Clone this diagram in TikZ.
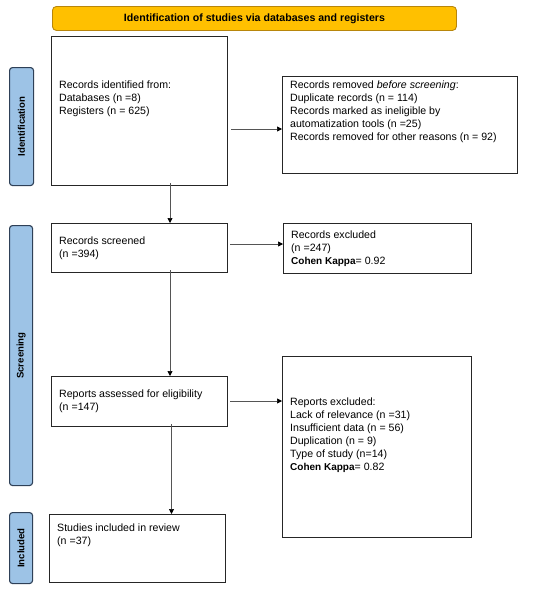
\documentclass[tikz,border=0pt]{standalone}
\usepackage{fontspec}
\setmainfont{Liberation Sans}
\usetikzlibrary{arrows.meta}
\definecolor{gold}{HTML}{FFC000}
\definecolor{goldline}{HTML}{B8860B}
\definecolor{lblue}{HTML}{9DC3E6}
\definecolor{bline}{HTML}{2E4057}
\definecolor{arrowgrey}{HTML}{555555}
\tikzset{
  box/.style={draw=black!85, line width=1.1pt, rectangle, inner sep=0pt},
  txt/.style={anchor=north west, align=left, inner sep=0pt, font=\fontsize{10.6}{12.9}\selectfont},
  phase/.style={draw=bline, fill=lblue, line width=1.1pt, rounded corners=3pt, inner sep=0pt},
  phasetxt/.style={rotate=90, font=\bfseries\fontsize{9.6}{11}\selectfont, inner sep=0pt},
  flow/.style={draw=arrowgrey, line width=0.7pt, -{Triangle[length=5pt,width=5pt,fill=black,color=black]}}
}
\newcommand{\kap}{\textbf{\fontsize{10}{12}\selectfont Cohen Kappa}}
\begin{document}
\begin{tikzpicture}[x=1pt,y=-1pt]
\useasboundingbox (0,0) rectangle (550,590);
% title
\node[draw=goldline, fill=gold, line width=0.9pt, rounded corners=4pt, minimum width=404pt, minimum height=24pt, anchor=north west, font=\bfseries\fontsize{10.6}{12}\selectfont] (title) at (52,6) {Identification of studies via databases and registers};
% phase labels
\node[phase, minimum width=24pt, minimum height=118pt, anchor=north west] (pid) at (9,67) {};
\node[phasetxt] (pidt) at (pid.center) {Identification};
\node[phase, minimum width=23pt, minimum height=260pt, anchor=north west] (psc) at (9,225) {};
\node[phasetxt] (psct) at (psc.center) {Screening};
\node[phase, minimum width=23pt, minimum height=71pt, anchor=north west] (pin) at (9,512) {};
\node[phasetxt] (pint) at (pin.center) {Included};
% boxes
\node[box, minimum width=176pt, minimum height=149pt, anchor=north west] (b1) at (51,36) {};
\node[box, minimum width=235pt, minimum height=97pt, anchor=north west] (b2) at (282,76) {};
\node[box, minimum width=176pt, minimum height=49pt, anchor=north west] (b3) at (51,223) {};
\node[box, minimum width=188pt, minimum height=50pt, anchor=north west] (b4) at (283,223) {};
\node[box, minimum width=176pt, minimum height=50pt, anchor=north west] (b5) at (51,376) {};
\node[box, minimum width=189pt, minimum height=181pt, anchor=north west] (b6) at (282,356) {};
\node[box, minimum width=176pt, minimum height=68pt, anchor=north west] (b7) at (49,514) {};
% texts
\node[txt] (t1) at (59,81) {Records identified from:\\Databases (n =8)\\Registers (n = 625)};
\node[txt] (t2) at (290,81) {Records removed \textit{before screening}:\\Duplicate records (n = 114)\\Records marked as ineligible by\\automatization tools (n =25)\\Records removed for other reasons (n = 92)};
\node[txt] (t3) at (59,237) {Records screened\\(n =394)};
\node[txt] (t4) at (291,231) {Records excluded\\(n =247)\\\kap= 0.92};
\node[txt] (t5) at (59,390) {Reports assessed for eligibility\\(n =147)};
\node[txt] (t6) at (290,398) {Reports excluded:\\Lack of relevance (n =31)\\Insufficient data (n = 56)\\Duplication (n = 9)\\Type of study (n=14)\\\kap= 0.82};
\node[txt] (t7) at (57,524) {Studies included in review\\(n =37)};
% connectors
\coordinate (a1) at (231,129);
\coordinate (a2) at (230,244);
\coordinate (a3) at (230,401);
\draw[flow] ([yshift=3pt]b1.south -| 170,0) -- (b3.north -| 170,0);
\draw[flow] (a1) -- (a1 -| b2.west);
\draw[flow] (a2) -- (a2 -| b4.west);
\draw[flow] ([yshift=3pt]b3.south -| 170,0) -- (b5.north -| 170,0);
\draw[flow] (a3) -- (a3 -| b6.west);
\draw[flow] ([yshift=3pt]b5.south -| 171.5,0) -- (b7.north -| 171.5,0);
\end{tikzpicture}
\end{document}
